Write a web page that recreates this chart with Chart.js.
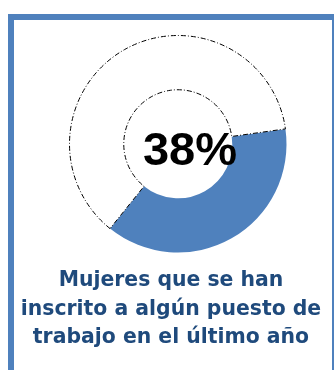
<!DOCTYPE html>
<html>
<head>
<meta charset="utf-8">
<script src="https://cdn.jsdelivr.net/npm/chart.js@4"></script>
<style>
  html, body { margin: 0; padding: 0; background: #ffffff; }
  #wrap { width: 334px; height: 370px; }
</style>
</head>
<body>
<div id="wrap"><canvas id="mujeresChart" width="334" height="370"></canvas></div>
<script>
// Porcentaje de mujeres inscritas vs. el resto
var categorias = ['Inscritas', 'No inscritas'];
var porcentajes = [38, 62];
var leyenda = ['Mujeres que se han', 'inscrito a algún puesto de', 'trabajo en el último año'];

var azul = '#4f81bd';
var azulOscuro = '#1f4a7c';

// Marco azul, cifra central y texto inferior
var decoracion = {
    id: 'decoracion',
    beforeDraw: function (chart) {
        var ctx = chart.ctx;
        ctx.save();
        ctx.fillStyle = azul;
        ctx.fillRect(8, 14, 326, 6);
        ctx.fillRect(8, 14, 6, 356);
        ctx.fillRect(332, 14, 2, 356);
        ctx.restore();
    },
    afterDraw: function (chart) {
        var ctx = chart.ctx;
        ctx.save();
        ctx.fillStyle = '#000000';
        ctx.font = 'bold 47px "Liberation Sans", Arial, sans-serif';
        ctx.textAlign = 'center';
        ctx.textBaseline = 'alphabetic';
        ctx.fillText(porcentajes[0] + '%', 190, 165);

        ctx.fillStyle = azulOscuro;
        ctx.font = 'bold 20.4px "DejaVu Sans", sans-serif';
        ctx.textBaseline = 'middle';
        leyenda.forEach(function (linea, i) {
            ctx.fillText(linea, 171, 281 + i * 28.5);
        });
        ctx.restore();
    }
};

var ctx = document.getElementById('mujeresChart').getContext('2d');
var mujeresChart = new Chart(ctx, {
    type: 'doughnut',
    data: {
        labels: categorias,
        datasets: [
            {
                data: porcentajes,
                backgroundColor: [azul, '#ffffff'],
                borderColor: ['rgba(0,0,0,0)', '#000000'],
                borderWidth: [0, 1],
                borderDash: [5, 2, 1, 2]
            }
        ]
    },
    options: {
        responsive: false,
        animation: false,
        rotation: 82,
        cutout: '50%',
        layout: {
            padding: { left: 69, right: 47, top: 35, bottom: 117 }
        },
        plugins: {
            legend: { display: false },
            tooltip: { enabled: false }
        },
        events: []
    },
    plugins: [decoracion]
});
</script>
</body>
</html>
